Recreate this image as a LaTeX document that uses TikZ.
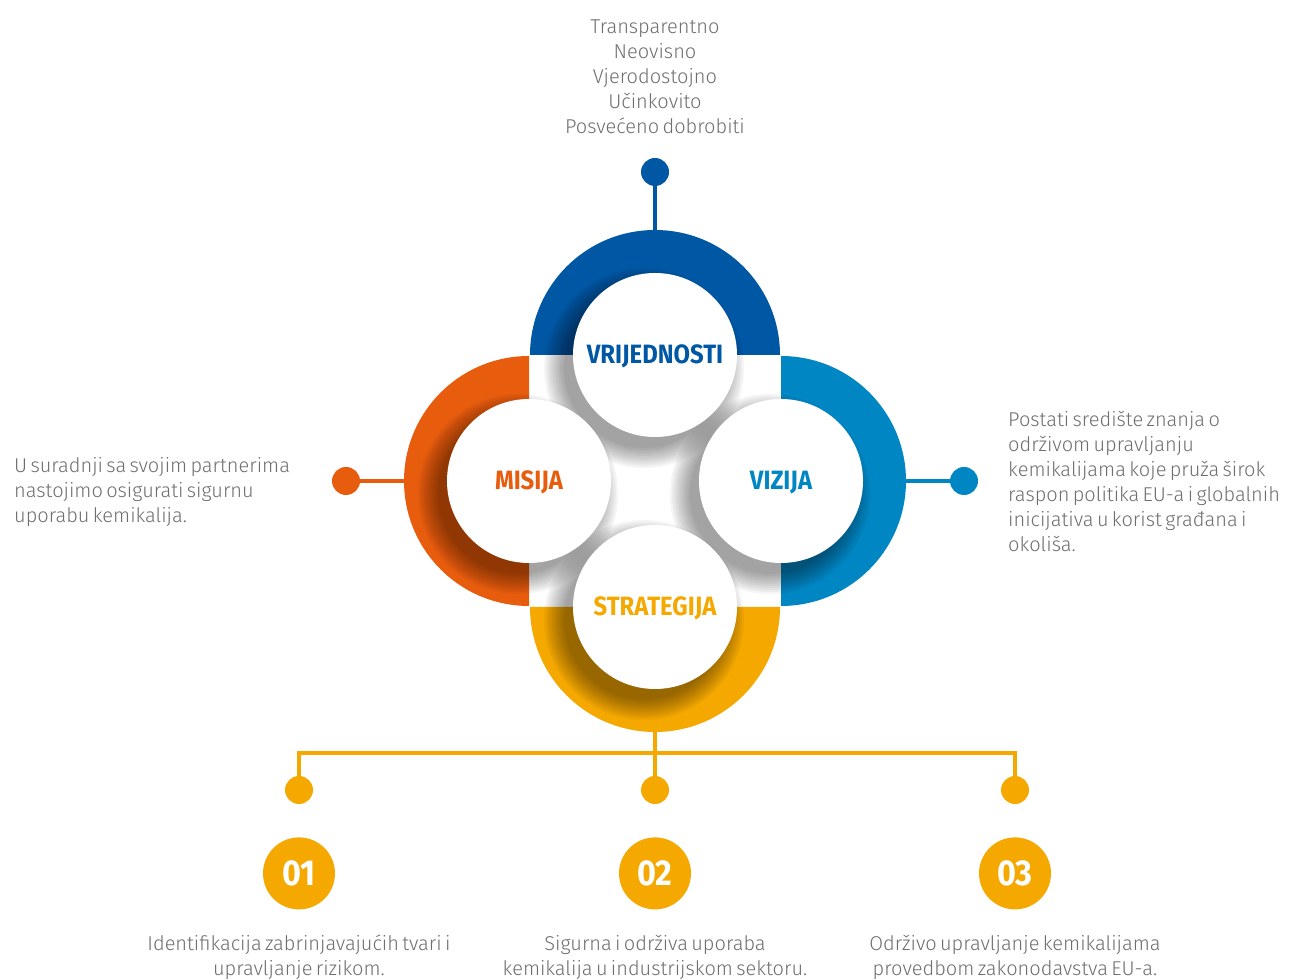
\documentclass[tikz,border=0pt]{standalone}
\usepackage{fontspec}
\setmainfont{Fira Sans Light}[WordSpace=0.6]
\newfontfamily\headfont{Fira Sans}[FakeStretch=0.9]
\usepackage{tikz}
\usetikzlibrary{positioning}

\definecolor{vrblue}{RGB}{0,87,164}
\definecolor{vzblue}{RGB}{0,134,195}
\definecolor{msorange}{RGB}{232,92,14}
\definecolor{styellow}{RGB}{245,168,0}
\definecolor{txtgrey}{RGB}{110,110,110}

\begin{document}
\begin{tikzpicture}[x=1pt,y=1pt,
		dot/.style={circle, minimum size=28pt, inner sep=0pt},
		numdot/.style={circle, fill=styellow, minimum size=72pt, inner sep=0pt, text=white, font=\headfont\bfseries\fontsize{36}{36}\selectfont},
		disc/.style={circle, fill=white, minimum size=164pt, inner sep=0pt, text height=18pt, text depth=0pt, font=\headfont\bfseries\fontsize{26.5}{26.5}\selectfont},
		desc/.style={text=txtgrey, font=\fontsize{20}{25}\selectfont, inner sep=0pt},
		link/.style={line width=3.5pt},
		shade/.style={fill=black, opacity=0.04}]
		\useasboundingbox (0,0) rectangle (1299,980);
		\coordinate (vrc) at (655,625);
		\coordinate (msc) at (529,499);
		\coordinate (vzc) at (781,499);
		\coordinate (stc) at (655,373);
		% rings
		\fill[vrblue] ([xshift=-125pt]vrc) arc[start angle=180, end angle=0, radius=125] -- cycle;
		\fill[msorange] ([yshift=-125pt]msc) arc[start angle=270, end angle=90, radius=125] -- cycle;
		\fill[vzblue] ([yshift=125pt]vzc) arc[start angle=90, end angle=-90, radius=125] -- cycle;
		\fill[styellow] ([xshift=125pt]stc) arc[start angle=0, end angle=-180, radius=125] -- cycle;
		% shadows
		\foreach \c in {vrc,msc,vzc,stc}
			\foreach \r in {80,82,...,100}
				\fill[shade] ([shift={(-11,-13)}]\c) circle (\r);
		\node[disc, text=vrblue] (vrdisc) at (vrc) {VRIJEDNOSTI};
		\node[disc, text=msorange] (msdisc) at (msc) {MISIJA};
		\node[disc, text=vzblue] (vzdisc) at (vzc) {VIZIJA};
		\node[disc, text=styellow] (stdisc) at (stc) {STRATEGIJA};
		\coordinate (vrtip) at (655,750);
		\coordinate (mstip) at (404,499);
		\coordinate (vztip) at (906,499);
		\coordinate (sttip) at (655,248);
		\coordinate (stbar) at (655,227);

		\node[dot, fill=vrblue] (vrdot) at (655,808) {};
		\node[dot, fill=msorange] (msdot) at (346,499) {};
		\node[dot, fill=vzblue] (vzdot) at (964,499) {};
		\node[dot, fill=styellow] (stdot1) at (299,190) {};
		\node[dot, fill=styellow] (stdot2) at (655,190) {};
		\node[dot, fill=styellow] (stdot3) at (1015,190) {};

		\node[desc, align=center] (vrtext) at (655,903) {Transparentno\\Neovisno\\Vjerodostojno\\Učinkovito\\Posvećeno dobrobiti};
		\node[desc, align=left, anchor=west] (mstext) at (14,488) {U suradnji sa svojim partnerima\\nastojimo osigurati sigurnu\\uporabu kemikalija.};
		\node[desc, align=left, anchor=west] (vztext) at (1008,499) {Postati središte znanja o\\održivom upravljanju\\kemikalijama koje pruža širok\\raspon politika EU-a i globalnih\\inicijativa u korist građana i\\okoliša.};

		\node[numdot, below=33pt of stdot1] (num1) {01};
		\node[numdot, below=33pt of stdot2] (num2) {02};
		\node[numdot, below=33pt of stdot3] (num3) {03};
		\node[desc, align=center, below=25pt of num1] (sttext1) {Identifikacija zabrinjavajućih tvari i\\upravljanje rizikom.};
		\node[desc, align=center, below=25pt of num2] (sttext2) {Sigurna i održiva uporaba\\kemikalija u industrijskom sektoru.};
		\node[desc, align=center, below=25pt of num3] (sttext3) {Održivo upravljanje kemikalijama\\provedbom zakonodavstva EU-a.};

		\draw[link, vrblue] (vrdot) -- (vrtip);
		\draw[link, msorange] (msdot) -- (mstip);
		\draw[link, vzblue] (vztip) -- (vzdot);
		\draw[link, styellow] (sttip) -- (stdot2);
		\draw[link, styellow] (stdot1) |- (stbar) -| (stdot3);
	\end{tikzpicture}
\end{document}
